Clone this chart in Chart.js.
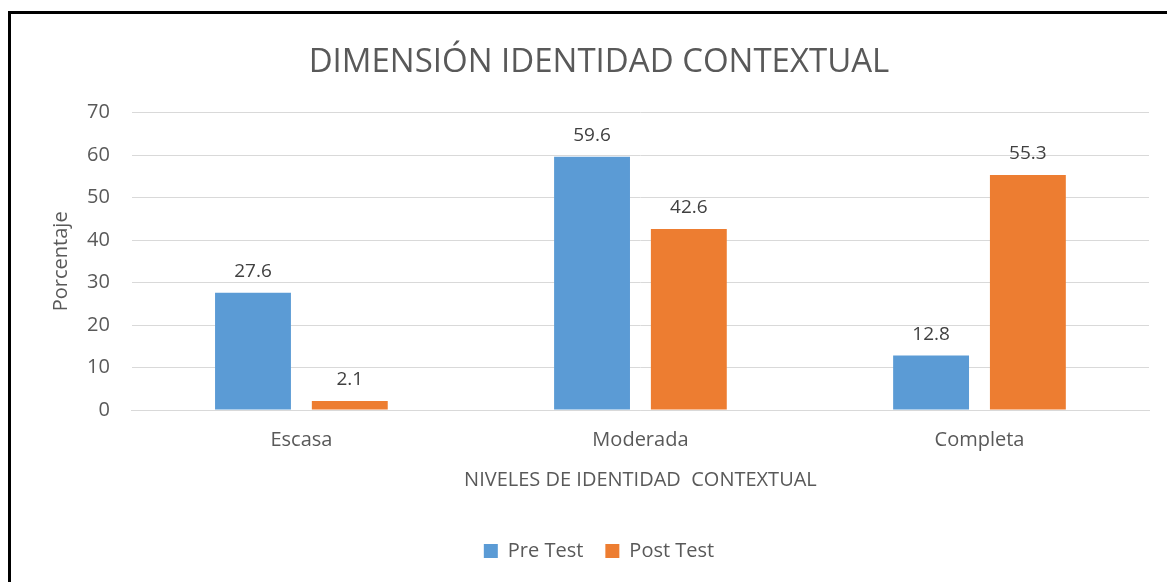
<!DOCTYPE html>
<html>
<head>
<meta charset="utf-8">
<script src="https://cdn.jsdelivr.net/npm/chart.js@4"></script>
<style>
  html, body { margin: 0; padding: 0; background: #fff; overflow: hidden; }
  #frame { position: absolute; left: 8px; top: 11px; width: 1200px; height: 620px; border: 3px solid #000; box-sizing: border-box; }
  #box { position: absolute; left: 0; top: 0; width: 1167px; height: 582px; }
</style>
</head>
<body>
<div id="frame"></div>
<div id="box"><canvas id="chart"></canvas></div>
<script>
// ── data ──
const categories = ['Escasa', 'Moderada', 'Completa'];
const preTest    = [27.6, 59.6, 12.8];
const postTest   = [2.1, 42.6, 55.3];
const yTicks     = [0, 10, 20, 30, 40, 50, 60, 70];

const FONT = "'Open Sans', 'Liberation Sans', sans-serif";
const GREY = '#595959';

// value labels above each bar
const barLabels = {
  id: 'barLabels',
  afterDatasetsDraw(chart) {
    const ctx = chart.ctx;
    ctx.save();
    ctx.font = '19px ' + FONT;
    ctx.fillStyle = '#404040';
    ctx.textAlign = 'center';
    ctx.textBaseline = 'bottom';
    chart.data.datasets.forEach((ds, i) => {
      chart.getDatasetMeta(i).data.forEach((bar, j) => {
        ctx.fillText(ds.data[j].toFixed(1), bar.x, bar.y - 12);
      });
    });
    ctx.restore();
  }
};

new Chart(document.getElementById('chart'), {
  type: 'bar',
  data: {
    labels: categories,
    datasets: [
      { label: 'Pre Test',  data: preTest,  backgroundColor: '#5b9bd5' },
      { label: 'Post Test', data: postTest, backgroundColor: '#ed7d31' }
    ]
  },
  options: {
    responsive: true, maintainAspectRatio: false, animation: false,
    categoryPercentage: 0.571, barPercentage: 0.784,
    layout: { padding: { left: 49, right: 18, top: 43, bottom: 11 } },
    plugins: {
      title: { display: true, text: 'DIMENSIÓN IDENTIDAD CONTEXTUAL', color: GREY,
        font: { family: FONT, size: 33, weight: 'normal' }, padding: { top: 0, bottom: 30 } },
      legend: { position: 'bottom',
        labels: { color: GREY, font: { family: FONT, size: 20 }, boxWidth: 14, boxHeight: 14, padding: 22 } },
      tooltip: { enabled: false }
    },
    scales: {
      x: {
        grid: { display: false },
        border: { color: '#d9d9d9' },
        ticks: { color: GREY, font: { family: FONT, size: 20 }, padding: 10 },
        title: { display: true, text: 'NIVELES DE IDENTIDAD  CONTEXTUAL', color: GREY,
          font: { family: FONT, size: 20 }, padding: { top: 6, bottom: 27 } }
      },
      y: {
        min: 0, max: 70,
        afterBuildTicks: axis => { axis.ticks = yTicks.map(v => ({ value: v })); },
        grid: { color: '#d9d9d9', drawTicks: false },
        border: { display: false },
        ticks: { color: GREY, font: { family: FONT, size: 20 }, padding: 22 },
        title: { display: true, text: 'Porcentaje', color: GREY,
          font: { family: FONT, size: 20 }, padding: { top: 0, bottom: -8 } }
      }
    }
  },
  plugins: [barLabels]
});
</script>
</body>
</html>
